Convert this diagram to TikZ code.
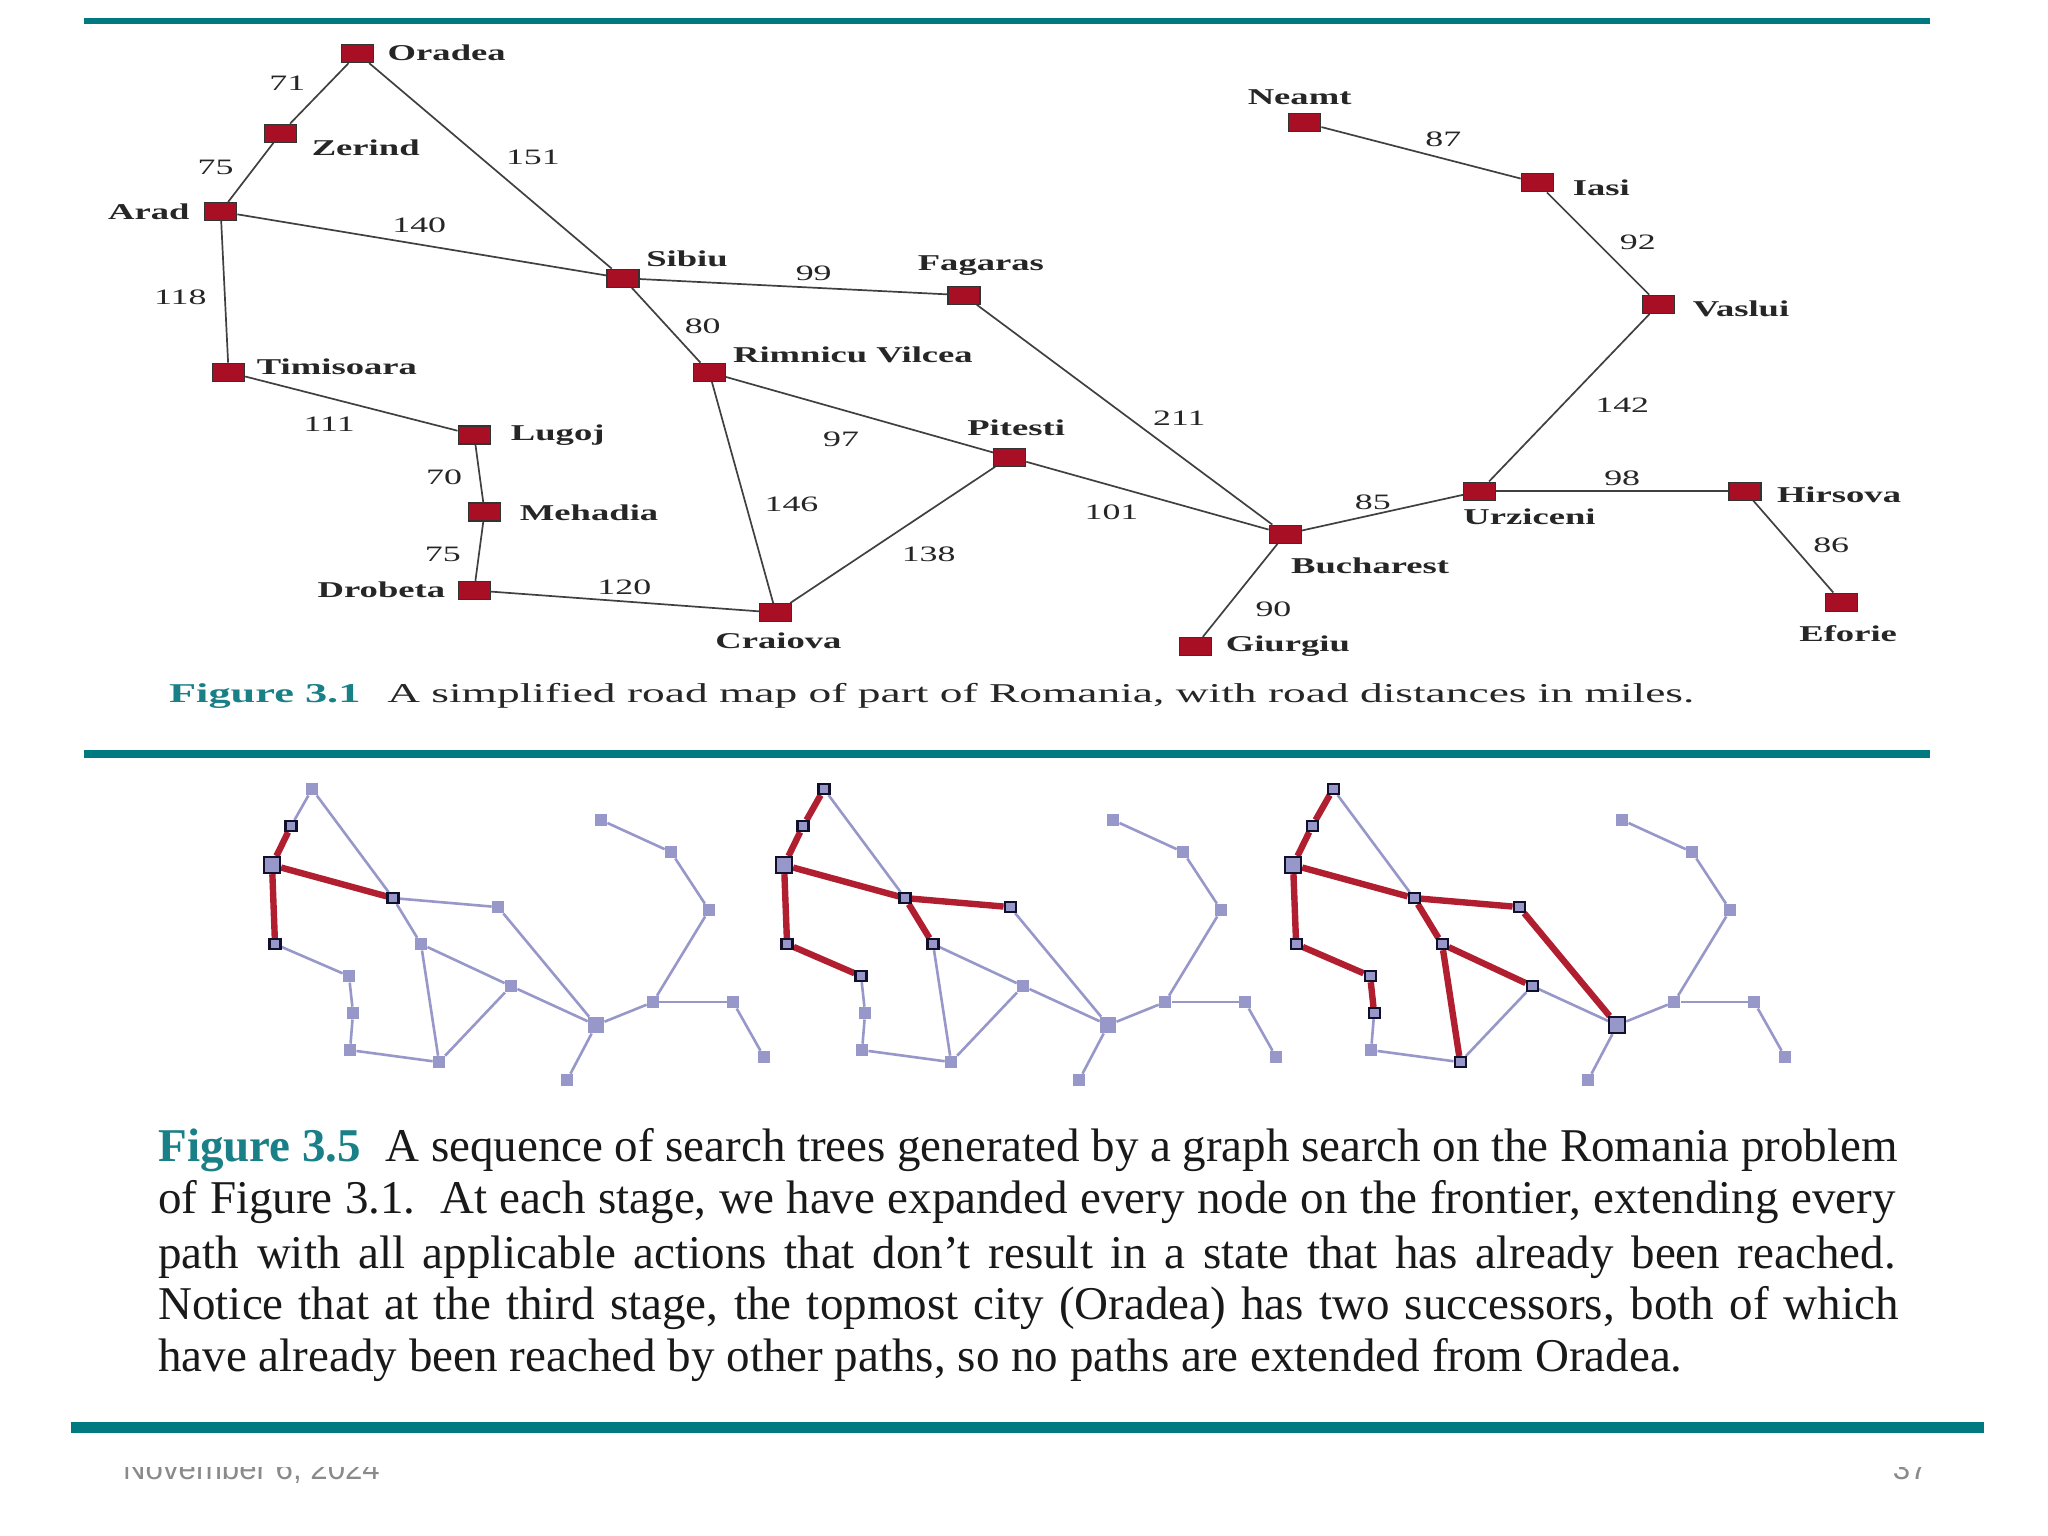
\documentclass[tikz,border=0pt]{standalone}
\usepackage{fontspec}
\setmainfont{Liberation Serif}
\newfontfamily\footfont{Liberation Sans}
\pgfdeclarelayer{under}
\pgfsetlayers{under,main}
\definecolor{rule}{HTML}{007A80}
\definecolor{cityred}{HTML}{A80F25}
\definecolor{pathred}{HTML}{B01E30}
\definecolor{pale}{HTML}{9797C9}
\definecolor{dark}{HTML}{10102A}
\definecolor{foot}{HTML}{8A8A8A}
\definecolor{capteal}{HTML}{1A8088}
\tikzset{
  hbar/.style={draw=rule},
  city/.style={rectangle,draw=black!80,line width=.6pt,fill=cityred,inner sep=0pt,minimum width=16pt,minimum height=9pt},
  road/.style={draw=black!75,line width=.85pt},
  place/.style={font=\fontsize{11.3}{13}\selectfont\bfseries,inner sep=0pt,transform shape,xscale=1.62,text=black!85},
  dist/.style={font=\fontsize{11}{13}\selectfont,inner sep=0pt,transform shape,xscale=1.63,text=black!85},
  capline/.style={anchor=base west,inner sep=0pt,font=\fontsize{23.5}{26}\selectfont,text=black!90},
  mini/.style={rectangle,fill=pale,inner sep=0pt,minimum width=6pt,minimum height=6pt},
  big/.style={minimum width=8pt,minimum height=8pt},
  front/.style={draw=dark,line width=1.1pt,minimum width=5.5pt,minimum height=5pt},
  bluerd/.style={draw=pale,line width=1.3pt},
  redrd/.style={draw=pathred,line width=3.2pt},
}
\newcommand{\panelmap}[2]{%
  \begin{scope}[x=.5pt,y=-.5pt,shift={(#2,0)}]
    \foreach \n/\X/\Y in {O/312/789,Z/291/826,S/393/898,F/498/907,R/421/944,T/275/944,L/349/976,M/353/1013,D/350/1050,C/439/1062,P/511/986,G/567/1080,U/653/1002,H/733/1002,E/764/1057,V/709/910,I/671/852,N/601/820}
      \node[mini,#1\n/.try] (#1\n) at (\X,\Y) {};
    \node[mini,big,#1A/.try] (#1A) at (272,865) {};
    \node[mini,big,#1B/.try] (#1B) at (596,1025) {};
    \begin{pgfonlayer}{under}
      \foreach \a/\b in {O/Z,Z/A,O/S,A/S,A/T,T/L,L/M,M/D,D/C,C/R,R/S,R/P,P/C,P/B,S/F,F/B,B/G,B/U,U/H,H/E,U/V,V/I,I/N}
        \draw[bluerd] (#1\a) -- (#1\b);
    \end{pgfonlayer}
  \end{scope}}
\begin{document}
\begin{tikzpicture}[x=.653pt,y=-.653pt]
\useasboundingbox (0,0) rectangle (1568,1176);
\begin{pgfonlayer}{under}
\fill[white] (0,0) rectangle (1568,1176);
\end{pgfonlayer}
\coordinate (r1a) at (64,16); \coordinate (r1b) at (1478,16);
\coordinate (r2a) at (64,577.5); \coordinate (r2b) at (1478,577.5);
\coordinate (r3a) at (54,1093); \coordinate (r3b) at (1519,1093);
\draw[hbar,line width=2.7pt] (r1a) -- (r1b);
\draw[hbar,line width=3.8pt] (r2a) -- (r2b);
\draw[hbar,line width=5.2pt] (r3a) -- (r3b);
% map
\foreach \n/\X/\Y in {Oradea/274/41,Zerind/215/102,Arad/169/162,Sibiu/477/213,Fagaras/738/226,Rimnicu/543/285,Timisoara/175/285,Lugoj/363/333,Mehadia/371/392,Drobeta/363/452,Craiova/594/469,Pitesti/773/350,Bucharest/984/409,Giurgiu/915/495,Urziceni/1133/376,Hirsova/1336/376,Eforie/1410/461,Vaslui/1270/233,Iasi/1177/140,Neamt/999/94}
  \node[city] (\n) at (\X,\Y) {};
\begin{pgfonlayer}{under}
\foreach \a/\b in {Oradea/Zerind,Zerind/Arad,Oradea/Sibiu,Arad/Sibiu,Arad/Timisoara,Timisoara/Lugoj,Lugoj/Mehadia,Mehadia/Drobeta,Drobeta/Craiova,Craiova/Rimnicu,Rimnicu/Sibiu,Rimnicu/Pitesti,Pitesti/Craiova,Pitesti/Bucharest,Sibiu/Fagaras,Fagaras/Bucharest,Bucharest/Giurgiu,Bucharest/Urziceni,Urziceni/Hirsova,Hirsova/Eforie,Urziceni/Vaslui,Vaslui/Iasi,Iasi/Neamt}
  \draw[road] (\a) -- (\b);
\end{pgfonlayer}
\foreach \n/\t/\X/\Y in {a/Oradea/342/40.5,b/Zerind/280/113.5,c/Arad/114/162.5,d/Sibiu/526/198.5,e/Fagaras/751/203.5,f/Rimnicu Vilcea/653/271.5,g/Timisoara/258/280.5,h/Lugoj/427/333.5,i/Mehadia/451/392.5,j/Drobeta/292/451.5,k/Craiova/596/490.5,l/Pitesti/778/327.5,m/Bucharest/1049/433.5,o/Giurgiu/986/494.5,p/Urziceni/1171/395.5,q/Hirsova/1408/378.5,r/Eforie/1415/485.5,s/Vaslui/1333/236.5,t/Iasi/1226/143.5,u/Neamt/995/74.5}
  \node[place] (lab\n) at (\X,\Y) {\t};
\foreach \n/\t/\X/\Y in {a/71/220/63.5,b/75/165/128.5,c/151/408/120.5,d/140/321/172.5,e/118/138/227.5,f/99/623/209.5,g/80/538/249.5,h/211/903/320.5,i/97/644/336.5,j/146/606/386.5,k/111/252/324.5,l/70/340/365.5,m/75/339/424.5,n/120/478/449.5,o/138/711/424.5,p/101/851/392.5,q/85/1051/384.5,r/90/975/466.5,s/98/1242/366.5,t/86/1402/417.5,u/87/1105/106.5,v/92/1254/185.5,w/142/1242/310.5}
  \node[dist] (num\n) at (\X,\Y) {\t};
\node[anchor=base west,inner sep=0pt,transform shape,xscale=1.63,font=\fontsize{13.6}{15}\selectfont\bfseries,text=capteal] (cap1) at (129,537.5) {Figure 3.1};
\node[anchor=base west,inner sep=0pt,transform shape,xscale=1.67,font=\fontsize{13.6}{15}\selectfont,text=black!85] (cap1b) at (296,537.5) {A simplified road map of part of Romania, with road distances in miles.};
% panels
\tikzset{aZ/.style=front,aT/.style=front,aS/.style=front,aA/.style={front,big},
 bO/.style=front,bZ/.style=front,bT/.style=front,bL/.style=front,bS/.style=front,bF/.style=front,bR/.style=front,bA/.style={front,big},
 cO/.style=front,cZ/.style=front,cT/.style=front,cL/.style=front,cM/.style=front,cS/.style=front,cF/.style=front,cR/.style=front,cP/.style=front,cC/.style=front,cA/.style={front,big},cB/.style={front,big}}
\panelmap{a}{0}
\panelmap{b}{512}
\panelmap{c}{1021}
\begin{pgfonlayer}{under}
\foreach \a/\b in {aZ/aA,aA/aS,aA/aT,bO/bZ,bZ/bA,bA/bS,bA/bT,bT/bL,bS/bF,bS/bR,cO/cZ,cZ/cA,cA/cS,cA/cT,cT/cL,cL/cM,cS/cF,cS/cR,cR/cP,cR/cC,cF/cB}
  \draw[redrd] (\a) -- (\b);
\end{pgfonlayer}
% caption
\node[capline,text=capteal,font=\fontsize{23.5}{26}\selectfont\bfseries] (f35) at (121,889) {Figure 3.5};
\node[capline] (l1) at (295,889) {\makebox[756pt][s]{A sequence of search trees generated by a graph search on the Romania problem}};
\node[capline] (l2) at (121,929) {\makebox[868.5pt][s]{of Figure 3.1.\ \ At each stage, we have expanded every node on the frontier, extending every}};
\node[capline] (l3) at (121,971) {\makebox[868.5pt][s]{path with all applicable actions that don’t result in a state that has already been reached.}};
\node[capline] (l4) at (121,1010) {\makebox[870pt][s]{Notice that at the third stage, the topmost city (Oradea) has two successors, both of which}};
\node[capline] (l5) at (121,1050) {\makebox[762pt][s]{have already been reached by other paths, so no paths are extended from Oradea.}};
% footer, cut at the top
\begin{scope}
\clip (0,1123.5) rectangle (1568,1176);
\node[anchor=base west,inner sep=0pt,font=\fontsize{15.6}{18}\footfont,text=foot] (date) at (94,1132.5) {November 6, 2024};
\node[anchor=base east,inner sep=0pt,font=\fontsize{15.6}{18}\footfont,text=foot] (page) at (1476,1132.5) {37};
\end{scope}
\end{tikzpicture}
\end{document}
